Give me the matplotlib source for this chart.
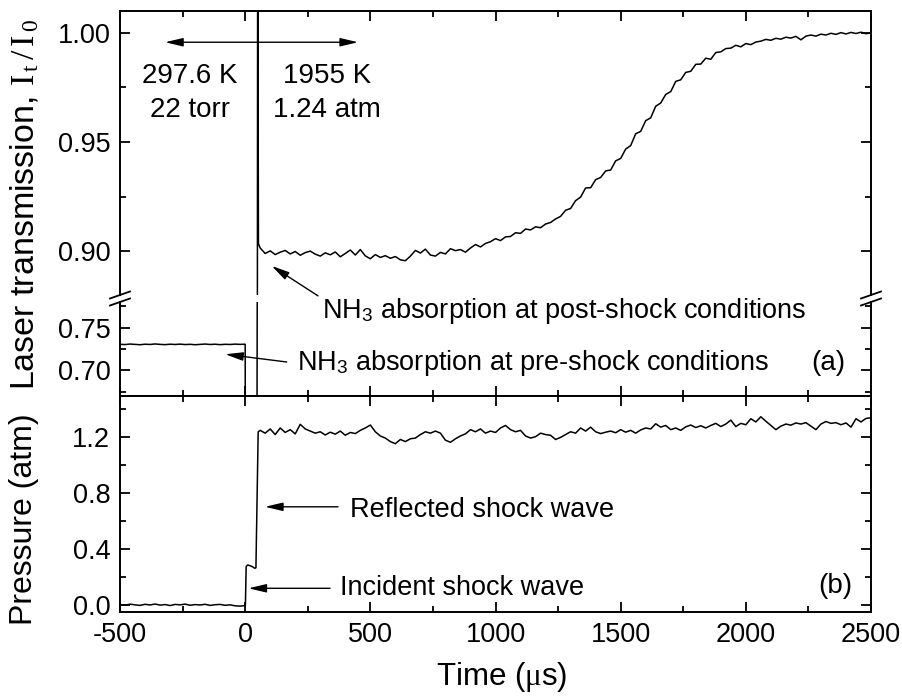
import matplotlib
matplotlib.use('Agg')
import matplotlib.pyplot as plt
from matplotlib.lines import Line2D
from matplotlib.ticker import MultipleLocator, FormatStrFormatter

plt.rcParams['font.family'] = 'Liberation Sans'
plt.rcParams['mathtext.fontset'] = 'custom'
plt.rcParams['mathtext.rm'] = 'Liberation Serif'
plt.rcParams['mathtext.it'] = 'Liberation Serif:italic'
plt.rcParams['mathtext.sf'] = 'Liberation Sans'
plt.rcParams['axes.unicode_minus'] = False

# ---- data ----
# pre-shock samples (us)
t_pre = [-500, -480, -460, -440, -420, -400, -380, -360, -340, -320, -300, -280, -260,
         -240, -220, -200, -180, -160, -140, -120, -100, -80, -60, -40, -20, 0]
trans_pre = [0.7305, 0.7302, 0.7308, 0.7304, 0.7300, 0.7306, 0.7303, 0.7309, 0.7304,
             0.7301, 0.7306, 0.7303, 0.7307, 0.7302, 0.7305, 0.7300, 0.7304, 0.7308,
             0.7303, 0.7306, 0.7301, 0.7305, 0.7303, 0.7307, 0.7304, 0.7306]
press_pre = [0.004, -0.002, 0.006, 0.001, -0.003, 0.005, 0.000, 0.007, -0.001, 0.003,
             -0.004, 0.004, 0.001, 0.006, -0.002, 0.003, 0.000, 0.005, -0.003, 0.002,
             0.004, -0.002, 0.001, -0.006, -0.008, -0.004]

# shock arrival transients
t_trans_jump = [1, 47, 50, 53]
trans_jump = [0.60, 0.60, 1.06, 0.9035]
t_press_jump = [1, 4, 10, 20, 30, 38, 43, 52]
press_jump = [0.0, 0.275, 0.285, 0.280, 0.272, 0.262, 0.265, 1.235]

# post-shock samples (us)
t_post = [60, 80, 100, 120, 140, 160, 180, 200, 220, 240,
          260, 280, 300, 320, 340, 360, 380, 400, 420, 440,
          460, 480, 500, 520, 540, 560, 580, 600, 620, 640,
          660, 680, 700, 720, 740, 760, 780, 800, 820, 840,
          860, 880, 900, 920, 940, 960, 980, 1000, 1020, 1040,
          1060, 1080, 1100, 1120, 1140, 1160, 1180, 1200, 1220, 1240,
          1260, 1280, 1300, 1320, 1340, 1360, 1380, 1400, 1420, 1440,
          1460, 1480, 1500, 1520, 1540, 1560, 1580, 1600, 1620, 1640,
          1660, 1680, 1700, 1720, 1740, 1760, 1780, 1800, 1820, 1840,
          1860, 1880, 1900, 1920, 1940, 1960, 1980, 2000, 2020, 2040,
          2060, 2080, 2100, 2120, 2140, 2160, 2180, 2200, 2220, 2240,
          2260, 2280, 2300, 2320, 2340, 2360, 2380, 2400, 2420, 2440,
          2460, 2480, 2500]
trans_post = [0.9015, 0.8990, 0.9002, 0.8985, 0.8996, 0.9004, 0.8988, 0.8999, 0.8982, 0.8994,
              0.9001, 0.8987, 0.8978, 0.8993, 0.8984, 0.8997, 0.8975, 0.8990, 0.9006, 0.8983,
              0.9008, 0.8979, 0.8966, 0.8985, 0.8972, 0.8980, 0.8968, 0.8976, 0.8961, 0.8957,
              0.8978, 0.9004, 0.8992, 0.9010, 0.8983, 0.8978, 0.8995, 0.8988, 0.9012, 0.9003,
              0.9008, 0.8996, 0.9015, 0.9031, 0.9020, 0.9036, 0.9044, 0.9058, 0.9049, 0.9066,
              0.9068, 0.9085, 0.9082, 0.9102, 0.9098, 0.9112, 0.9108, 0.9125, 0.9132, 0.9148,
              0.9160, 0.9188, 0.9196, 0.9232, 0.9248, 0.9290, 0.9291, 0.9328, 0.9338, 0.9368,
              0.9372, 0.9414, 0.9425, 0.9468, 0.9484, 0.9538, 0.9549, 0.9598, 0.9611, 0.9664,
              0.9679, 0.9718, 0.9731, 0.9778, 0.9785, 0.9819, 0.9824, 0.9856, 0.9857, 0.9884,
              0.9879, 0.9910, 0.9913, 0.9928, 0.9930, 0.9943, 0.9936, 0.9951, 0.9946, 0.9958,
              0.9962, 0.9970, 0.9966, 0.9975, 0.9971, 0.9980, 0.9976, 0.9984, 0.9968, 0.9985,
              0.9990, 0.9985, 0.9994, 0.9990, 0.9998, 0.9993, 1.0001, 0.9995, 1.0002, 0.9997,
              1.0003, 0.9996, 1.0000]
press_post = [1.245, 1.225, 1.255, 1.215, 1.262, 1.230, 1.250, 1.220, 1.288, 1.255,
              1.240, 1.225, 1.235, 1.212, 1.232, 1.218, 1.240, 1.210, 1.230, 1.222,
              1.245, 1.262, 1.283, 1.235, 1.205, 1.190, 1.165, 1.150, 1.180, 1.165,
              1.185, 1.190, 1.215, 1.235, 1.225, 1.240, 1.225, 1.175, 1.160, 1.185,
              1.205, 1.220, 1.250, 1.235, 1.255, 1.225, 1.240, 1.230, 1.262, 1.280,
              1.250, 1.235, 1.245, 1.205, 1.190, 1.200, 1.225, 1.215, 1.210, 1.180,
              1.195, 1.215, 1.235, 1.225, 1.262, 1.240, 1.268, 1.235, 1.222, 1.232,
              1.240, 1.228, 1.250, 1.232, 1.245, 1.225, 1.248, 1.262, 1.255, 1.292,
              1.268, 1.280, 1.250, 1.262, 1.245, 1.270, 1.283, 1.265, 1.278, 1.262,
              1.280, 1.295, 1.272, 1.290, 1.318, 1.272, 1.295, 1.285, 1.328, 1.305,
              1.342, 1.310, 1.280, 1.250, 1.275, 1.290, 1.282, 1.298, 1.290, 1.300,
              1.275, 1.250, 1.290, 1.308, 1.295, 1.300, 1.285, 1.298, 1.268, 1.328,
              1.305, 1.330, 1.335]

t_all = t_pre + t_trans_jump + t_post
trans_all = trans_pre + trans_jump + trans_post
t_p_all = t_pre + t_press_jump + t_post
press_all = press_pre + press_jump + press_post

# ---- layout (pixel based, 902x696) ----
W, H = 902, 696
fig = plt.figure(figsize=(W / 100, H / 100), dpi=100)
x0, x1 = 120, 871


def box(ytop, ybot):
    return [x0 / W, 1 - ybot / H, (x1 - x0) / W, (ybot - ytop) / H]


ax_top = fig.add_axes(box(11, 295))
ax_mid = fig.add_axes(box(302, 396))
ax_bot = fig.add_axes(box(396, 612))

line_kw = dict(color='black', lw=1.1)
ax_top.plot(t_all, trans_all, **line_kw)
ax_mid.plot(t_all, trans_all, **line_kw)
ax_bot.plot(t_p_all, press_all, **line_kw)

for ax in (ax_top, ax_mid, ax_bot):
    ax.set_xlim(-500, 2500)
    ax.xaxis.set_major_locator(MultipleLocator(500))
    ax.xaxis.set_minor_locator(MultipleLocator(250))
    for sp in ax.spines.values():
        sp.set_linewidth(1.4)
    ax.tick_params(which='both', direction='in', right=True, width=1.3,
                   labelsize=19.5)
    ax.tick_params(which='major', length=7)
    ax.tick_params(which='minor', length=4)
    ax.tick_params(axis='y', pad=7)
    ax.tick_params(axis='x', pad=7)

ax_top.set_ylim(0.88, 1.01)
ax_top.yaxis.set_major_locator(MultipleLocator(0.05))
ax_top.yaxis.set_minor_locator(MultipleLocator(0.025))
ax_top.yaxis.set_major_formatter(FormatStrFormatter('%.2f'))
ax_top.spines['bottom'].set_visible(False)
ax_top.tick_params(axis='x', which='both', top=True, bottom=False, labelbottom=False)

ax_mid.set_ylim(0.67, 0.78)
ax_mid.yaxis.set_major_locator(MultipleLocator(0.05))
ax_mid.yaxis.set_minor_locator(MultipleLocator(0.025))
ax_mid.yaxis.set_major_formatter(FormatStrFormatter('%.2f'))
ax_mid.spines['top'].set_visible(False)
ax_mid.tick_params(axis='x', which='both', top=False, bottom=True, labelbottom=False)

ax_bot.set_ylim(-0.05, 1.49)
ax_bot.yaxis.set_major_locator(MultipleLocator(0.4))
ax_bot.yaxis.set_minor_locator(MultipleLocator(0.2))
ax_bot.yaxis.set_major_formatter(FormatStrFormatter('%.1f'))
ax_bot.tick_params(axis='x', which='both', top=True, bottom=True)

# axis break marks
for xs in (x0, x1):
    for ys in (295, 302):
        fig.add_artist(Line2D([(xs - 10) / W, (xs + 10) / W],
                              [1 - (ys + 3.5) / H, 1 - (ys - 3.5) / H],
                              color='black', lw=1.3))

# axis labels
fig.text(25 / W, 1 - 204 / H,
         r'Laser transmission, $\mathrm{I_{\,t}\,/\,I_{\,0}}$',
         rotation=90, ha='center', va='center', fontsize=24.5)
fig.text(24 / W, 1 - 519 / H, 'Pressure (atm)',
         rotation=90, ha='center', va='center', fontsize=23)
fig.text(502 / W, 1 - 677 / H, r'Time ($\mathrm{\mu}$s)',
         ha='center', va='center', fontsize=22.5)

# annotations
arrow = dict(arrowstyle='-|>,head_length=0.72,head_width=0.17',
             mutation_scale=15, color='black', lw=1.0, shrinkA=0, shrinkB=0)
ax_top.annotate('', xy=(-320, 0.9957), xytext=(451, 0.9957),
                arrowprops=dict(arrow, arrowstyle='<|-|>,head_length=0.72,head_width=0.17'))
ax_top.text(-220, 0.9771, '297.6 K', ha='center', va='baseline', fontsize=20)
ax_top.text(-220, 0.9613, '22 torr', ha='center', va='baseline', fontsize=20)
ax_top.text(327, 0.9771, '1955 K', ha='center', va='baseline', fontsize=20)
ax_top.text(326, 0.9613, '1.24 atm', ha='center', va='baseline', fontsize=20)

ax_top.annotate('', xy=(106, 0.8933), xytext=(291, 0.8796),
                arrowprops=arrow, annotation_clip=False)
ax_mid.text(307, 0.7611, r'NH$_\mathsf{3}$ absorption at post-shock conditions',
            ha='left', va='baseline', fontsize=19.5)
ax_mid.annotate('', xy=(-80, 0.7189), xytext=(166, 0.7098), arrowprops=arrow)
ax_mid.text(206, 0.70, r'NH$_\mathsf{3}$ absorption at pre-shock conditions',
            ha='left', va='baseline', fontsize=19.5)
ax_mid.text(2329, 0.70, '(a)', ha='center', va='baseline', fontsize=20)

ax_bot.annotate('', xy=(79, 0.70), xytext=(371, 0.70), arrowprops=arrow)
ax_bot.text(419, 0.63, 'Reflected shock wave', ha='left', va='baseline', fontsize=19.5)
ax_bot.annotate('', xy=(13, 0.119), xytext=(339, 0.119), arrowprops=arrow)
ax_bot.text(379, 0.071, 'Incident shock wave', ha='left', va='baseline', fontsize=19.5)
ax_bot.text(2357, 0.083, '(b)', ha='center', va='baseline', fontsize=20)

fig.savefig('out.png', dpi=100)
